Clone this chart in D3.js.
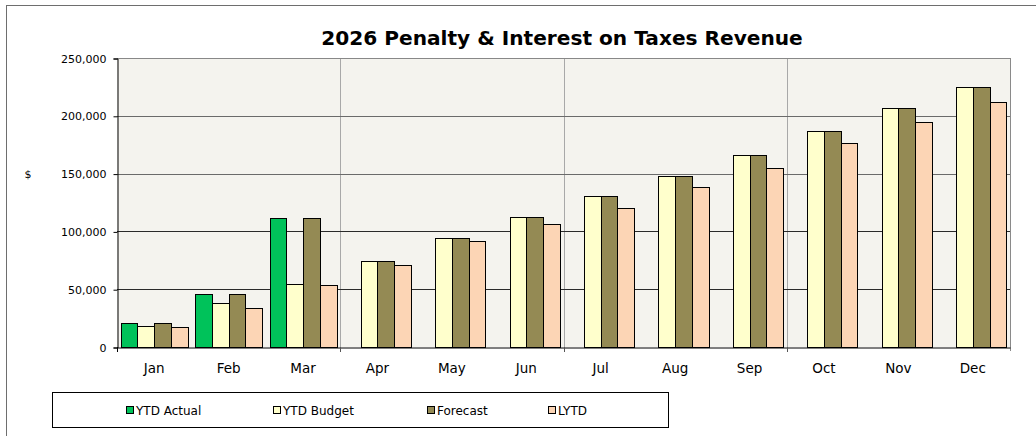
<!DOCTYPE html>
<html>
<head>
<meta charset="utf-8">
<script src="https://cdn.jsdelivr.net/npm/d3@7"></script>
<style>
  html, body { margin: 0; padding: 0; background: #fff; }
  svg { display: block; font-family: "DejaVu Sans", Verdana, sans-serif; }
</style>
</head>
<body>
<svg id="chart" width="1036" height="436"></svg>
<script>
// ---- data ----
const months = ["Jan","Feb","Mar","Apr","May","Jun","Jul","Aug","Sep","Oct","Nov","Dec"];
const seriesNames = ["YTD Actual","YTD Budget","Forecast","LYTD"];
const ytdActual = [21000, 45500, 111800, null, null, null, null, null, null, null, null, null];
const ytdBudget = [18200, 38300, 54200, 74200, 94600, 112500, 130300, 148200, 166400, 186700, 206800, 225000];
const forecast  = [21000, 45500, 111800, 74200, 94600, 112500, 130300, 148200, 166400, 186700, 206800, 225000];
const lytd      = [17600, 33400, 53400, 71200, 91700, 106700, 120500, 138100, 154600, 176200, 194400, 211700];
const yTicks = [0, 50000, 100000, 150000, 200000, 250000];
const titleText = "2026 Penalty & Interest on Taxes Revenue";
const yAxisLabel = "$";

const seriesValues = [ytdActual, ytdBudget, forecast, lytd];
const colors = ["#00C25A", "#FFFFCC", "#948A54", "#FCD5B5"];

const svg = d3.select("#chart");
const plot = { left: 117, right: 1010, top: 58, bottom: 347 };

// outer chart border (cropped on right/bottom)
svg.append("rect").attr("x", 6.5).attr("y", 5.5).attr("width", 1100).attr("height", 500)
  .attr("fill", "#fff").attr("stroke", "#6e6e6e").attr("stroke-width", 1);

const x = d3.scaleBand().domain(months).range([plot.left, plot.right]).paddingInner(0).paddingOuter(0);
const xs = d3.scaleBand().domain(seriesNames).range([0, x.bandwidth()]).paddingInner(0).paddingOuter(0.22);
const y = d3.scaleLinear().domain([0, 250000]).range([plot.bottom, plot.top]);

// plot background
svg.append("rect").attr("x", plot.left).attr("y", plot.top)
  .attr("width", plot.right - plot.left).attr("height", plot.bottom - plot.top)
  .attr("fill", "#F4F3EE");

// vertical gridlines every 3 months
const quarterEdges = months.filter((m, i) => i > 0 && i % 3 === 0).map(m => x(m));
svg.append("g").selectAll("line").data(quarterEdges).join("line")
  .attr("x1", d => Math.round(d) + 0.5).attr("x2", d => Math.round(d) + 0.5)
  .attr("y1", plot.top).attr("y2", plot.bottom)
  .attr("stroke", "#a8a8a8").attr("stroke-width", 1);

// horizontal gridlines
svg.append("g").selectAll("line").data(yTicks.filter(t => t > 0)).join("line")
  .attr("x1", plot.left).attr("x2", plot.right)
  .attr("y1", d => Math.round(y(d)) + 0.5).attr("y2", d => Math.round(y(d)) + 0.5)
  .attr("stroke", d => d >= 250000 ? "#888" : (d >= 150000 ? "#6a6a6a" : "#2a2a2a")).attr("stroke-width", 1);

// right border of plot
svg.append("line").attr("x1", plot.right + 0.5).attr("x2", plot.right + 0.5)
  .attr("y1", plot.top).attr("y2", plot.bottom + 4).attr("stroke", "#8a8a8a");

// bars
const barData = [];
months.forEach((m, i) => {
  seriesNames.forEach((s, j) => {
    const v = seriesValues[j][i];
    if (v != null) barData.push({ m, s, v, j });
  });
});
svg.append("g").selectAll("rect").data(barData).join("rect")
  .attr("x", d => Math.round(x(d.m) + xs(d.s)) + 0.5)
  .attr("y", d => Math.round(y(d.v)) + 0.5)
  .attr("width", d => Math.round(x(d.m) + xs(d.s) + xs.bandwidth()) - Math.round(x(d.m) + xs(d.s)))
  .attr("height", d => Math.round(y(0)) - Math.round(y(d.v)))
  .attr("fill", d => colors[d.j])
  .attr("stroke", "#000").attr("stroke-width", 1);

// y axis
const yAxis = d3.axisLeft(y).tickValues(yTicks).tickSize(4).tickPadding(7)
  .tickFormat(d3.format(","));
const gy = svg.append("g").attr("transform", `translate(${plot.left + 0.5},0.5)`).call(yAxis);
gy.select(".domain").attr("stroke", "#000");
gy.selectAll(".tick line").attr("stroke", "#000");
gy.selectAll(".tick text").attr("font-size", 11).attr("fill", "#000")
  .attr("font-family", "DejaVu Sans");

// x axis
const xAxis = d3.axisBottom(x).tickSize(0).tickPadding(16);
const gx = svg.append("g").attr("transform", `translate(0,${plot.bottom + 0.5})`).call(xAxis);
gx.select(".domain").attr("stroke", "#000");
gx.selectAll(".tick text").attr("font-size", 13.5).attr("fill", "#000")
  .attr("font-family", "DejaVu Sans");
// x tick marks at every 3rd category boundary
const xTickPos = [plot.left].concat(quarterEdges);
svg.append("g").selectAll("line").data(xTickPos).join("line")
  .attr("x1", d => Math.round(d) + 0.5).attr("x2", d => Math.round(d) + 0.5)
  .attr("y1", plot.bottom).attr("y2", plot.bottom + 5)
  .attr("stroke", d => d === plot.left ? "#000" : "#555");

// y label
svg.append("text").attr("x", 28).attr("y", y(150000) + 4).attr("text-anchor", "middle")
  .attr("font-size", 11).attr("fill", "#000").text(yAxisLabel);

// title
const title = svg.append("text").attr("x", 562).attr("y", 45).attr("text-anchor", "middle")
  .attr("font-size", 20).attr("font-weight", "bold").attr("fill", "#000").text(titleText);
const tl = title.node().getComputedTextLength();
title.attr("font-size", 20 * 482 / tl);

// legend
svg.append("rect").attr("x", 52.5).attr("y", 392.5).attr("width", 616).attr("height", 35)
  .attr("fill", "#fff").attr("stroke", "#000");
const legendX = [126, 273, 427, 548];
const lg = svg.append("g").selectAll("g").data(seriesNames).join("g")
  .attr("transform", (d, i) => `translate(${legendX[i]},0)`);
lg.append("rect").attr("x", 0.5).attr("y", 406.5).attr("width", 7).attr("height", 7)
  .attr("fill", (d, i) => colors[i]).attr("stroke", "#000");
lg.append("text").attr("x", 10).attr("y", 414.5).attr("font-size", 12).attr("fill", "#000")
  .text(d => d);
</script>
</body>
</html>
